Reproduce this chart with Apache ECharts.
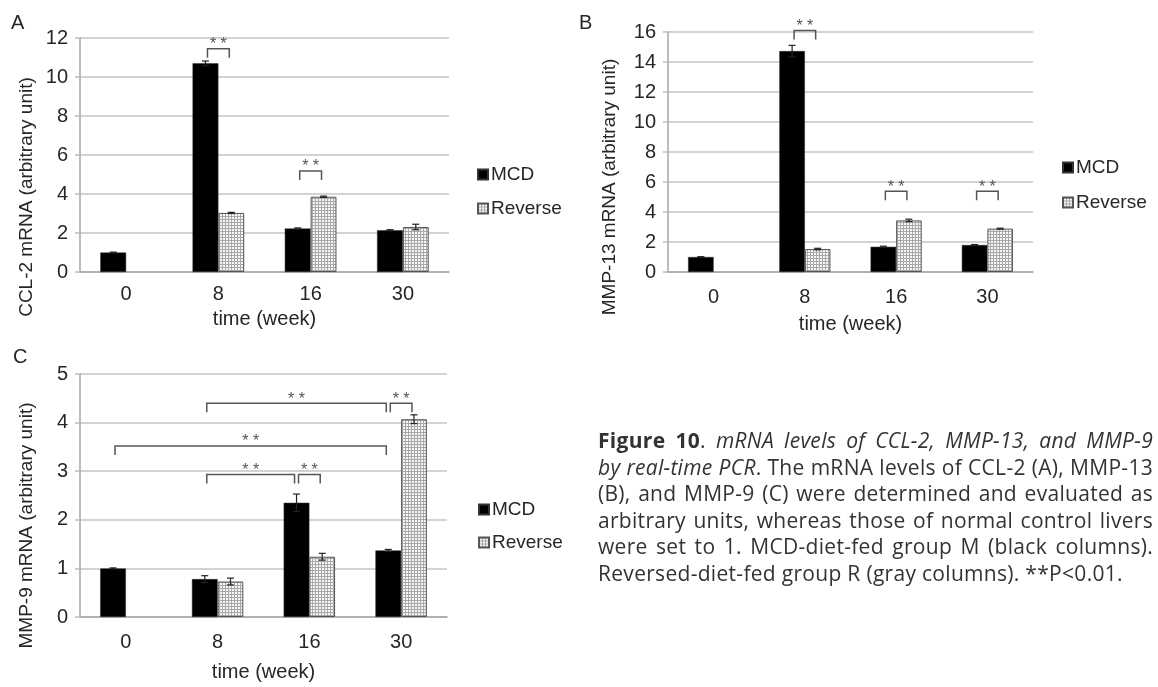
<!DOCTYPE html>
<html>
<head>
<meta charset="utf-8">
<script src="https://cdn.jsdelivr.net/npm/echarts@6/dist/echarts.min.js"></script>
<style>
  html, body { margin: 0; padding: 0; background: #fff; }
  #chart { position: absolute; left: 0; top: 0; width: 1158px; height: 687px; }
  .caption {
    position: absolute; left: 598px; top: 427px; width: 555px;
    font-family: 'Open Sans', 'Noto Sans', sans-serif; font-size: 21px;
    letter-spacing: 0.3px; line-height: 26.6px; color: #333;
  }
  .caption div { white-space: nowrap; }
  .caption .j { text-align: justify; text-align-last: justify; }
</style>
</head>
<body>
<div id="chart"></div>
<div class="caption">
  <div class="j"><b>Figure 10</b>. <i>mRNA levels of CCL-2, MMP-13, and MMP-9</i></div>
  <div class="j"><i>by real-time PCR</i>. The mRNA levels of CCL-2 (A), MMP-13</div>
  <div class="j">(B), and MMP-9 (C) were determined and evaluated as</div>
  <div class="j">arbitrary units, whereas those of normal control livers</div>
  <div class="j">were set to 1. MCD-diet-fed group M (black columns).</div>
  <div>Reversed-diet-fed group R (gray columns). **P&lt;0.01.</div>
</div>
<script>
const weeks = ['0', '8', '16', '30'];

// panel A - CCL-2
const ccl2Mcd = [1.0, 10.7, 2.23, 2.14];
const ccl2McdErr = [0.02, 0.12, 0.03, 0.03];
const ccl2Rev = [null, 3.03, 3.86, 2.31];
const ccl2RevErr = [null, 0.03, 0.03, 0.14];
// significance: [from week, from series (0 MCD / 1 Reverse), to week, to series, bracket height]
const ccl2Sig = [[1, 0, 1, 1, 11.45], [2, 0, 2, 1, 5.18]];

// panel B - MMP-13
const mmp13Mcd = [1.0, 14.73, 1.68, 1.8];
const mmp13McdErr = [0.02, 0.38, 0.04, 0.03];
const mmp13Rev = [null, 1.53, 3.44, 2.89];
const mmp13RevErr = [null, 0.05, 0.08, 0.03];
const mmp13Sig = [[1, 0, 1, 1, 16.1], [2, 0, 2, 1, 5.38], [3, 0, 3, 1, 5.38]];

// panel C - MMP-9
const mmp9Mcd = [1.0, 0.78, 2.35, 1.37];
const mmp9McdErr = [0.01, 0.07, 0.18, 0.02];
const mmp9Rev = [null, 0.73, 1.24, 4.07];
const mmp9RevErr = [null, 0.07, 0.07, 0.09];
const mmp9Sig = [[1, 0, 3, 0, 4.4], [3, 0, 3, 1, 4.4], [0, 0, 3, 0, 3.52], [1, 0, 2, 0, 2.93], [2, 0, 2, 1, 2.93]];

const BAR = 0.28;
const FONT = "'Liberation Sans', Arial, sans-serif";
const TXT = '#262626';

// dotted fill for the Reverse columns
const pat = document.createElement('canvas');
pat.width = 3; pat.height = 3;
const pc = pat.getContext('2d');
pc.fillStyle = '#a8a8a8'; pc.fillRect(0, 0, 3, 3);
pc.fillStyle = '#f6f6f6'; pc.fillRect(1, 1, 2, 2);
const revFill = { image: pat, repeat: 'repeat' };

function errRender(side) {
  return function (params, api) {
    const cat = api.value(0), v = api.value(1), e = api.value(2);
    const bw = api.size([1, 0])[0] * BAR;
    const x = api.coord([cat, v])[0] + side * bw / 2;
    const yHi = api.coord([cat, v + e])[1];
    const yLo = api.coord([cat, v - e])[1];
    const st = { stroke: '#222', lineWidth: 1.2 };
    return {
      type: 'group',
      children: [
        { type: 'line', shape: { x1: x, y1: yHi, x2: x, y2: yLo }, style: st },
        { type: 'line', shape: { x1: x - 3.5, y1: yHi, x2: x + 3.5, y2: yHi }, style: st },
        { type: 'line', shape: { x1: x - 3.5, y1: yLo, x2: x + 3.5, y2: yLo }, style: st }
      ]
    };
  };
}

function sigRender(params, api) {
  const bw = api.size([1, 0])[0] * BAR;
  const lvl = api.value(4);
  const p1 = api.coord([api.value(0), lvl]);
  const p2 = api.coord([api.value(2), lvl]);
  const x1 = p1[0] + (api.value(1) ? 1 : -1) * bw / 2 + 2;
  const x2 = p2[0] + (api.value(3) ? 1 : -1) * bw / 2 - 2;
  const y = p1[1];
  return {
    type: 'group',
    children: [
      {
        type: 'polyline',
        shape: { points: [[x1, y + 9], [x1, y], [x2, y], [x2, y + 9]] },
        style: { stroke: '#555', lineWidth: 1.5, fill: null }
      },
      {
        type: 'text', x: (x1 + x2) / 2, y: y - 4,
        style: { text: '* *', fontSize: 16, fontFamily: FONT, fill: '#555', align: 'center', verticalAlign: 'middle' }
      }
    ]
  };
}

function errData(vals, errs) {
  const out = [];
  vals.forEach((v, i) => { if (v != null) out.push([i, v, errs[i]]); });
  return out;
}

function panelSeries(idx, mcd, mcdErr, rev, revErr, sig) {
  return [
    {
      name: 'MCD', type: 'bar', xAxisIndex: idx, yAxisIndex: idx, data: mcd,
      barWidth: BAR * 100 + '%', barGap: '0%',
      itemStyle: { color: '#000', borderColor: '#333', borderWidth: 0.5 }
    },
    {
      name: 'Reverse', type: 'bar', xAxisIndex: idx, yAxisIndex: idx, data: rev,
      barWidth: BAR * 100 + '%', barGap: '0%',
      itemStyle: { color: revFill, borderColor: '#555', borderWidth: 1 }
    },
    {
      type: 'custom', xAxisIndex: idx, yAxisIndex: idx, renderItem: errRender(-1),
      data: errData(mcd, mcdErr), encode: { x: 0, y: 1 }, z: 5, silent: true
    },
    {
      type: 'custom', xAxisIndex: idx, yAxisIndex: idx, renderItem: errRender(1),
      data: errData(rev, revErr), encode: { x: 0, y: 1 }, z: 5, silent: true
    },
    {
      type: 'custom', xAxisIndex: idx, yAxisIndex: idx, renderItem: sigRender,
      data: sig, encode: { x: 0, y: 4 }, z: 6, silent: true, clip: false
    }
  ];
}

function xAx(idx, margin, gap) {
  return {
    type: 'category', gridIndex: idx, data: weeks,
    axisLine: { lineStyle: { color: '#a6a6a6', width: 1.5 } },
    axisTick: { length: 7, lineStyle: { color: '#a6a6a6', width: 1.5 } },
    axisLabel: { fontSize: 20, color: TXT, fontFamily: FONT, margin: margin },
    name: 'time (week)', nameLocation: 'middle', nameGap: gap,
    nameTextStyle: { fontSize: 20, color: TXT, fontFamily: FONT }
  };
}

function yAx(idx, name, max, step, gap, shift) {
  return {
    type: 'value', gridIndex: idx, min: 0, max: max, interval: step,
    axisLine: { show: true, lineStyle: { color: '#a6a6a6', width: 1.5 } },
    axisTick: { show: true, length: 5, lineStyle: { color: '#bdbdbd', width: 1.5 } },
    splitLine: { lineStyle: { color: '#c4c4c4', width: 1.5 } },
    axisLabel: { fontSize: 20, color: TXT, fontFamily: FONT, margin: 12 },
    name: name, nameLocation: 'middle', nameGap: gap,
    nameTextStyle: { fontSize: 19, color: TXT, fontFamily: FONT, padding: [0, shift * 2, 0, 0] }
  };
}

function legendAt(left, top, gap) {
  return {
    left: left, top: top, orient: 'vertical', padding: 0, itemGap: gap,
    itemWidth: 10, itemHeight: 10, icon: 'rect', selectedMode: false,
    data: ['MCD', 'Reverse'],
    textStyle: { fontSize: 19, color: TXT, fontFamily: FONT, padding: [0, 0, 0, -2] }
  };
}

const chart = echarts.init(document.getElementById('chart'), null, { renderer: 'canvas' });
chart.setOption({
  animation: false,
  backgroundColor: '#fff',
  title: [
    { text: 'A', left: 6, top: 8, textStyle: { fontSize: 20, fontWeight: 'normal', color: TXT, fontFamily: FONT } },
    { text: 'B', left: 574, top: 8, textStyle: { fontSize: 20, fontWeight: 'normal', color: TXT, fontFamily: FONT } },
    { text: 'C', left: 8, top: 342, textStyle: { fontSize: 20, fontWeight: 'normal', color: TXT, fontFamily: FONT } }
  ],
  legend: [legendAt(477, 165, 15), legendAt(1062, 158, 16), legendAt(478, 500, 14)],
  grid: [
    { left: 80, top: 38, width: 369, height: 234 },
    { left: 668, top: 32, width: 365, height: 240 },
    { left: 80, top: 374, width: 367, height: 243 }
  ],
  xAxis: [xAx(0, 12, 37), xAx(1, 15, 42), xAx(2, 15, 45)],
  yAxis: [
    yAx(0, 'CCL-2 mRNA (arbitrary unit)', 12, 2, 44, 42),
    yAx(1, 'MMP-13 mRNA (arbitrary unit)', 16, 2, 49, 35),
    yAx(2, 'MMP-9 mRNA (arbitrary unit)', 5, 1, 44, 30)
  ],
  series: [
    ...panelSeries(0, ccl2Mcd, ccl2McdErr, ccl2Rev, ccl2RevErr, ccl2Sig),
    ...panelSeries(1, mmp13Mcd, mmp13McdErr, mmp13Rev, mmp13RevErr, mmp13Sig),
    ...panelSeries(2, mmp9Mcd, mmp9McdErr, mmp9Rev, mmp9RevErr, mmp9Sig)
  ]
});
</script>
</body>
</html>
